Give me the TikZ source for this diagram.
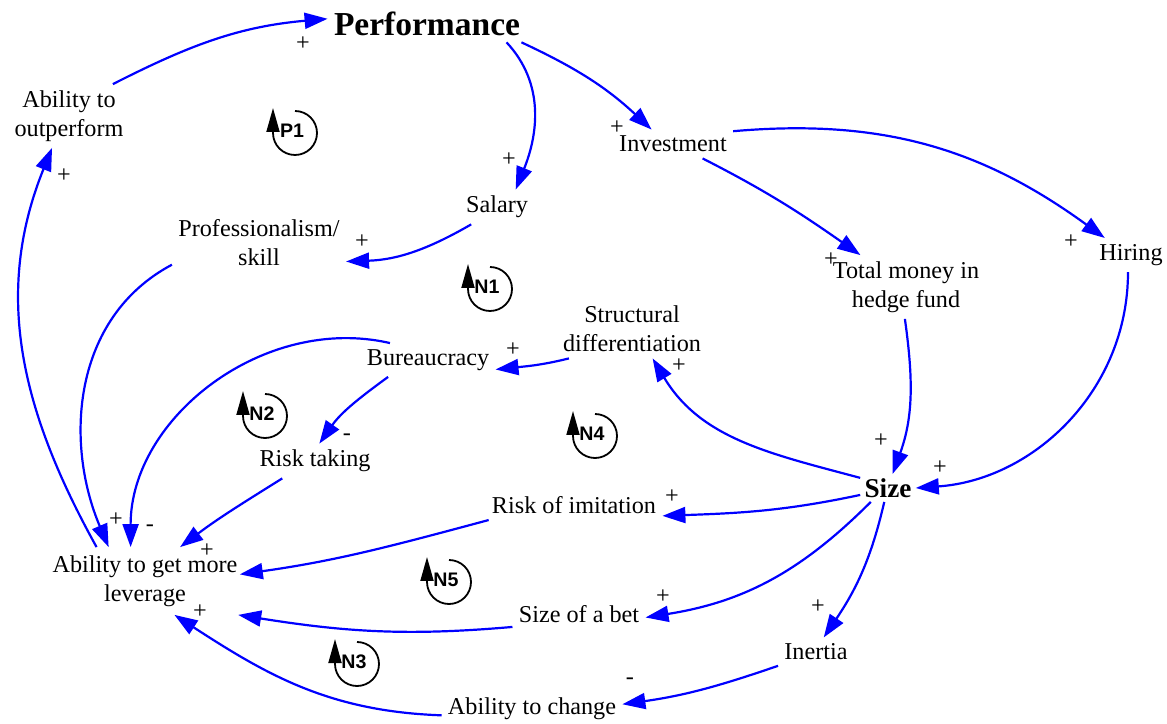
\documentclass[tikz,border=0pt]{standalone}
\usepackage{fontspec}
\setmainfont{Liberation Serif}
\newfontfamily\loopfont{Liberation Sans}
\usetikzlibrary{arrows.meta}

\tikzset{
  var/.style={inner sep=3pt, align=center, font=\fontsize{12.1}{14.5}\selectfont},
  link/.style={blue, line width=1.1pt, -{Triangle[length=11.5pt,width=8pt]}},
  sign/.style={inner sep=0pt, font=\fontsize{12.1}{14.5}\selectfont},
  looplbl/.style={inner sep=0pt, font=\loopfont\bfseries\fontsize{9.8}{11}\selectfont},
  loopline/.style={black, line width=0.9pt, -{Triangle[length=12pt,width=6.5pt]}}
}

% loop marker: name, centre x, centre y, label
\newcommand{\fbloop}[4]{%
  \draw [loopline] (#2,#3) ++(0,22) arc [start angle=90, end angle=-180, radius=11pt] -- ++(0,25);
  \node [looplbl, xshift=-1.5pt, yshift=1pt] (#1) at (#2,#3) {#4};
}

\begin{document}
\begin{tikzpicture}[x=0.5pt, y=0.5pt]
\useasboundingbox (0,0) rectangle (1167,723);

% variables
\node [var, font=\fontsize{16.75}{20}\selectfont\bfseries] (perf) at (427,699) {Performance};
\node [var] (outp)  at (69,607)  {Ability to\\outperform};
\node [var] (inv)   at (673,579) {Investment};
\node [var] (sal)   at (497,516) {Salary};
\node [var] (prof)  at (259,480) {Professionalism/\\skill};
\node [var] (hire)  at (1131,468) {Hiring};
\node [var] (tmh)   at (906,436) {Total money in\\hedge fund};
\node [var] (sdiff) at (632,394) {Structural\\differentiation};
\node [var] (bur)   at (428,363) {Bureaucracy};
\node [var] (risk)  at (315,262) {Risk taking};
\node [var, inner sep=2pt, font=\fontsize{13.6}{16}\selectfont\bfseries] (size) at (888,235) {Size};
\node [var] (imit)  at (574,218) {Risk of imitation};
\node [var, inner xsep=1pt, inner ysep=4pt] (lev) at (145,142) {Ability to get more\\leverage};
\node [var] (bet)   at (579,109) {Size of a bet};
\node [var] (inert) at (816,71)  {Inertia};
\node [var] (chg)   at (532,14)  {Ability to change};

% links
\draw [link] (outp.36)   to [out=27,  in=185] (perf.177);
\draw [link] (perf.-11)  to [out=-25, in=137] (inv.146);
\draw [link] (perf.-13)  to [out=-47, in=68]  (sal.43);
\draw [link] (inv.-26)   to [out=-27, in=145] (tmh.145);
\draw [link] (inv.12)    to [out=5,   in=144] (hire.147);
\draw [link] (sal.-146)  to [out=-150,in=2]   (prof.-12);
\draw [link] (prof.194)  to [out=208, in=113] (lev.137);
\draw [link] (lev.145)   to [out=119, in=248] (outp.242);
\draw [link] (bur.156)   to [out=167, in=90]  (lev.113);
\draw [link] (bur.203)   to [out=216, in=55]  (risk.76);
\draw [link] (risk.208)  to [out=212, in=37]  (lev.44);
\draw [link] (imit.190)  to [out=195, in=8]   (lev.4);
\draw [link] (bet.191)   to [out=185, in=-9]  (lev.-20);
\draw [link] (chg.184)   to [out=178, in=-33] (lev.-49);
\draw [link] (size.160)  to [out=165, in=-59] (sdiff.-55);
\draw [link] (size.194)  to [out=192, in=2]   (imit.-7);
\draw [link] (size.219)  to [out=225, in=9]   (bet.-3);
\draw [link] (size.255)  to [out=257, in=56]  (inert.62);
\draw [link] (inert.200) to [out=199, in=8]   (chg.3);
\draw [link] (tmh.268)   to [out=278, in=70]  (size.72);
\draw [link] (hire.260)  to [out=270, in=4]   (size.0);
\draw [link] (sdiff.205) to [out=194, in=6]   (bur.-8);

% polarities
\node [sign] (sg1)  at (303,679) {+};
\node [sign] (sg2)  at (617,595) {+};
\node [sign] (sg3)  at (509,563) {+};
\node [sign] (sg4)  at (64,547)  {+};
\node [sign] (sg5)  at (362,481) {+};
\node [sign] (sg6)  at (831,463) {+};
\node [sign] (sg7)  at (1071,481) {+};
\node [sign] (sg8)  at (513,373) {+};
\node [sign] (sg9)  at (679,357) {+};
\node [sign] (sg10) at (347,286) {-};
\node [sign] (sg11) at (881,282) {+};
\node [sign] (sg12) at (940,255) {+};
\node [sign] (sg13) at (672,226) {+};
\node [sign] (sg14) at (116,203) {+};
\node [sign] (sg15) at (150,195) {-};
\node [sign] (sg16) at (207,172) {+};
\node [sign] (sg17) at (663,126) {+};
\node [sign] (sg18) at (818,116) {+};
\node [sign] (sg19) at (200,111) {+};
\node [sign] (sg20) at (630,42)  {-};

% loops
\fbloop{p1}{295}{590}{P1}
\fbloop{n1}{490}{434}{N1}
\fbloop{n2}{265}{307}{N2}
\fbloop{n4}{595}{287}{N4}
\fbloop{n5}{449}{141}{N5}
\fbloop{n3}{357}{59}{N3}

\end{tikzpicture}
\end{document}
